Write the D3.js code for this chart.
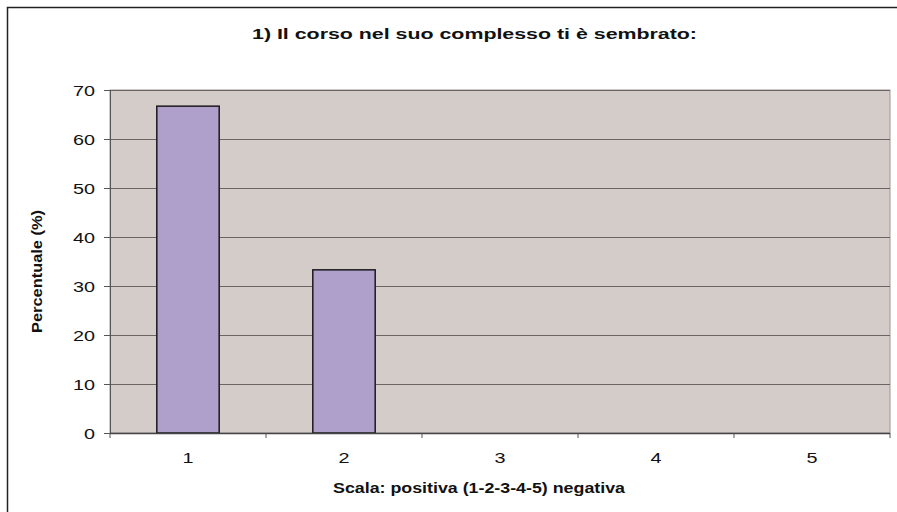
<!DOCTYPE html>
<html>
<head>
<meta charset="utf-8">
<script src="https://cdn.jsdelivr.net/npm/d3@7"></script>
<style>
  body { margin: 0; background: #fff; }
  text { font-family: "Liberation Sans", Arial, sans-serif; fill: #111; }
</style>
</head>
<body>
<div class="chart"></div>
<script>
// chart data
var categories = ["1", "2", "3", "4", "5"];
var percentages = [66.7, 33.3, 0, 0, 0];
var yTicks = [0, 10, 20, 30, 40, 50, 60, 70];
var title = "1) Il corso nel suo complesso ti è sembrato:";
var xTitle = "Scala: positiva (1-2-3-4-5) negativa";
var yTitle = "Percentuale (%)";

var svgWidth = 897;
var svgHeight = 512;
var margin = { top: 90, right: 7, bottom: 79, left: 110 };
var width = svgWidth - margin.left - margin.right;
var height = svgHeight - margin.top - margin.bottom;

// the original text is drawn wide, so labels get stretched to this width per char
var digitWidth = 11;

var svg = d3.select(".chart")
  .append("svg")
  .attr("width", svgWidth)
  .attr("height", svgHeight);

// outer frame (left and top edges visible)
svg.append("path")
  .attr("d", "M7.5,512 V7.5 H897")
  .attr("fill", "none")
  .attr("stroke", "#222")
  .attr("stroke-width", 1.5);

var chartGroup = svg.append("g")
  .attr("transform", `translate(${margin.left}, ${margin.top})`);

var xScale = d3.scaleBand()
  .domain(categories)
  .range([0, width])
  .paddingInner(0.6)
  .paddingOuter(0.3);

var yScale = d3.scaleLinear()
  .domain([0, 70])
  .range([height, 0]);

// plot background
chartGroup.append("rect")
  .attr("width", width)
  .attr("height", height)
  .attr("fill", "#d3ccc9")
  .attr("stroke", "#9e9694")
  .attr("stroke-width", 1);

// gridlines
chartGroup.selectAll(".grid")
  .data(yTicks.filter(d => d > 0))
  .enter()
  .append("line")
  .attr("x1", 0)
  .attr("x2", width)
  .attr("y1", d => Math.round(yScale(d)) + 0.5)
  .attr("y2", d => Math.round(yScale(d)) + 0.5)
  .attr("stroke", "#6a6462")
  .attr("stroke-width", 1);

// bars
chartGroup.selectAll(".bar")
  .data(categories.map((c, i) => ({ cat: c, value: percentages[i] })).filter(d => d.value > 0))
  .enter()
  .append("rect")
  .attr("x", d => xScale(d.cat))
  .attr("y", d => yScale(d.value))
  .attr("width", xScale.bandwidth())
  .attr("height", d => height - yScale(d.value))
  .attr("fill", "#ae9fcb")
  .attr("stroke", "#1c1a1e")
  .attr("stroke-width", 1.5);

// y axis
var leftAxis = d3.axisLeft(yScale)
  .tickValues(yTicks)
  .tickSize(6)
  .tickPadding(9);

var yAxis = chartGroup.append("g").call(leftAxis);
yAxis.select(".domain").attr("stroke", "#555");
yAxis.selectAll(".tick line").attr("stroke", "#555");
yAxis.selectAll("text")
  .style("font-family", "Liberation Sans, Arial, sans-serif")
  .style("font-size", "15px")
  .attr("fill", "#111")
  .attr("dy", "0.36em")
  .attr("textLength", d => String(d).length * digitWidth)
  .attr("lengthAdjust", "spacingAndGlyphs");

// x axis: ticks between categories
var step = width / categories.length;
var xAxisG = chartGroup.append("g")
  .attr("transform", `translate(0, ${height})`);

xAxisG.append("line")
  .attr("x1", 0).attr("x2", width)
  .attr("y1", 0.5).attr("y2", 0.5)
  .attr("stroke", "#444")
  .attr("stroke-width", 1.5);

xAxisG.selectAll(".xtick")
  .data(d3.range(categories.length + 1))
  .enter()
  .append("line")
  .attr("x1", d => d * step)
  .attr("x2", d => d * step)
  .attr("y1", 0)
  .attr("y2", 5)
  .attr("stroke", "#555");

xAxisG.selectAll(".xlabel")
  .data(categories)
  .enter()
  .append("text")
  .attr("x", d => xScale(d) + xScale.bandwidth() / 2 - digitWidth / 2)
  .attr("y", 30)
  .style("font-size", "15px")
  .attr("textLength", d => d.length * digitWidth)
  .attr("lengthAdjust", "spacingAndGlyphs")
  .text(d => d);

// titles
svg.append("text")
  .attr("x", 252)
  .attr("y", 39)
  .style("font-size", "15px")
  .style("font-weight", "bold")
  .attr("textLength", 445)
  .attr("lengthAdjust", "spacingAndGlyphs")
  .text(title);

svg.append("text")
  .attr("x", 333)
  .attr("y", 493)
  .style("font-size", "14px")
  .style("font-weight", "bold")
  .attr("textLength", 292)
  .attr("lengthAdjust", "spacingAndGlyphs")
  .text(xTitle);

svg.append("text")
  .attr("transform", "rotate(-90)")
  .attr("x", -333)
  .attr("y", 42)
  .style("font-size", "14px")
  .style("font-weight", "bold")
  .attr("textLength", 123)
  .attr("lengthAdjust", "spacingAndGlyphs")
  .text(yTitle);
</script>
</body>
</html>
